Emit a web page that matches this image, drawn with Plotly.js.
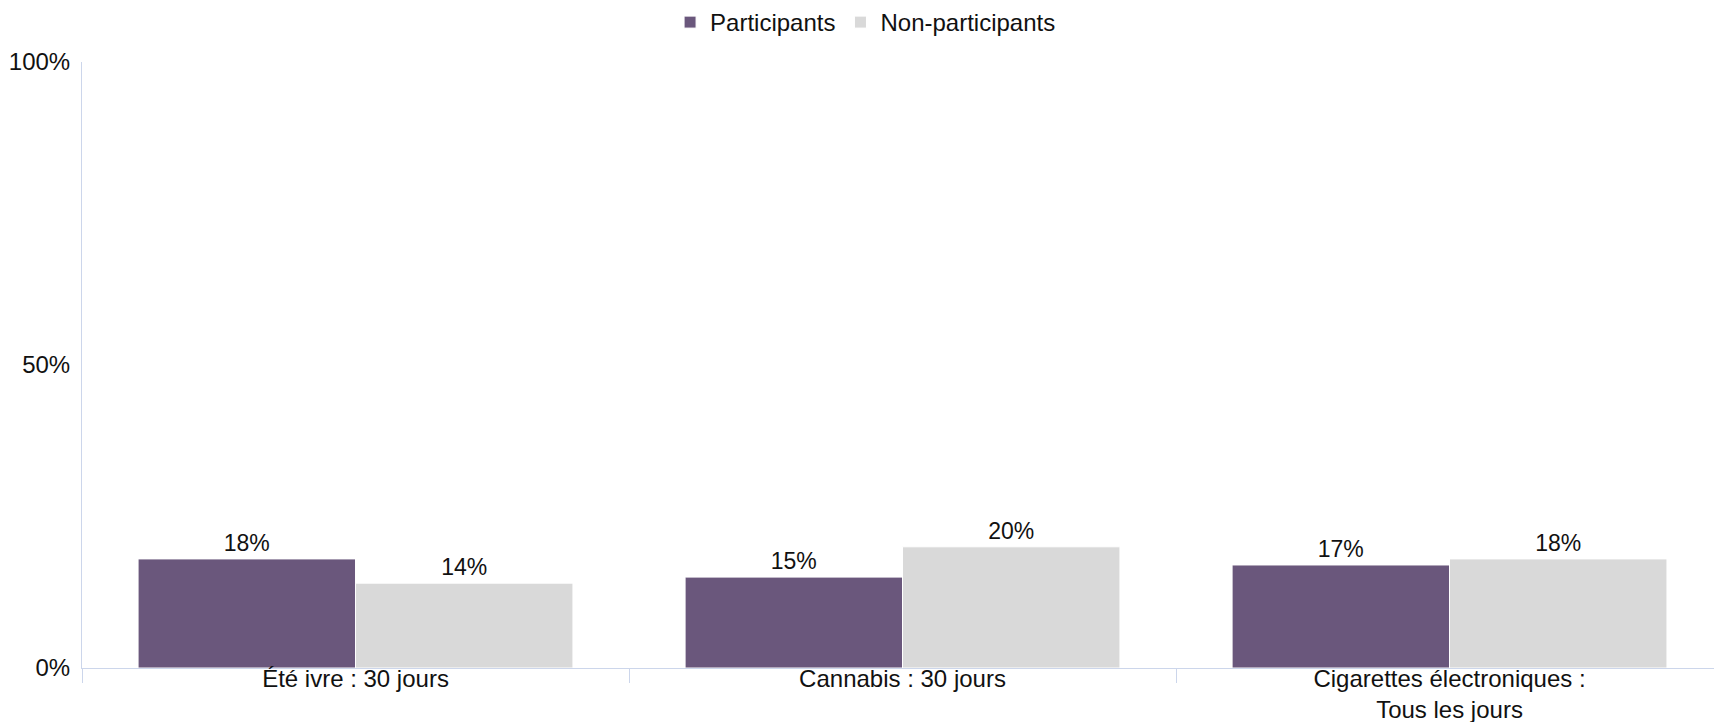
<!DOCTYPE html>
<html>
<head>
<meta charset="utf-8">
<script src="https://cdn.plot.ly/plotly-3.0.1.min.js"></script>
<style>html,body{margin:0;padding:0;background:#fff;}#chart{width:1714px;height:722px;}</style>
</head>
<body>
<div id="chart"></div>
<script>
const categories = ["Été ivre : 30 jours", "Cannabis : 30 jours", "Cigarettes électroniques :<br>Tous les jours"];
const participants = [18, 15, 17];
const nonParticipants = [14, 20, 18];
const seriesNames = ["Participants", "Non-participants"];
const yTicks = [0, 50, 100];

const FONT = "Liberation Sans, Arial, sans-serif";
const axisColor = "#ccd6eb";

const traces = [
  {type: "bar", name: seriesNames[0], x: categories, y: participants,
   marker: {color: "#6a577c", line: {color: "#ffffff", width: 1}},
   text: participants.map(v => v + "%"), textposition: "outside", cliponaxis: false,
   textfont: {family: FONT, size: 23, color: "#111"}, hoverinfo: "skip"},
  {type: "bar", name: seriesNames[1], x: categories, y: nonParticipants,
   marker: {color: "#d9d9d9", line: {color: "#ffffff", width: 1}},
   text: nonParticipants.map(v => v + "%"), textposition: "outside", cliponaxis: false,
   textfont: {family: FONT, size: 23, color: "#111"}, hoverinfo: "skip"}
];

const layout = {
  width: 1714, height: 722,
  margin: {l: 82, r: 0, t: 62, b: 54},
  paper_bgcolor: "#fff", plot_bgcolor: "#fff",
  font: {family: FONT, size: 24, color: "#111"},
  barmode: "group", bargap: 0.205, bargroupgap: 0,
  showlegend: true,
  legend: {orientation: "h", x: 0.505, xref: "container", xanchor: "center", y: 1, yref: "container", yanchor: "top",
           font: {family: FONT, size: 24, color: "#111"}, itemwidth: 30, traceorder: "normal"},
  xaxis: {type: "category", range: [-0.5, 2.4835], showgrid: false, zeroline: false,
          showline: true, linecolor: axisColor, linewidth: 1,
          ticks: "outside", tickson: "boundaries", ticklen: 14, tickcolor: axisColor,
          ticklabelstandoff: -11,
          tickfont: {family: FONT, size: 24, color: "#111"}, fixedrange: true},
  yaxis: {range: [0, 100], tickvals: yTicks, ticktext: yTicks.map(v => v + "%"),
          showgrid: false, zeroline: false, showline: true, linecolor: axisColor, linewidth: 1,
          ticks: "", ticklabelstandoff: 6,
          tickfont: {family: FONT, size: 24, color: "#111"}, fixedrange: true}
};

Plotly.newPlot("chart", traces, layout, {displayModeBar: false, staticPlot: true});
</script>
</body>
</html>
